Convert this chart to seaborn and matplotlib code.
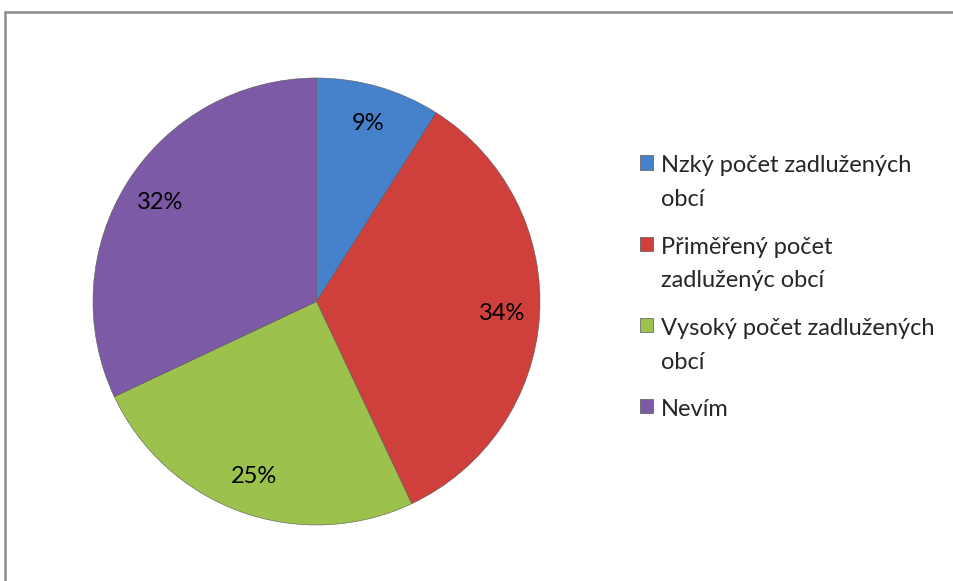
import matplotlib
matplotlib.use("Agg")
import matplotlib.pyplot as plt
import seaborn as sns
from matplotlib.patches import Patch
from matplotlib.lines import Line2D

labels = ["Nzký počet zadlužených\nobcí", "Přiměřený počet\nzadluženýc obcí",
          "Vysoký počet zadlužených\nobcí", "Nevím"]
values = [9, 34, 25, 32]
colors = ["#4682cc", "#cf403d", "#9cc14c", "#7c5aa5"]

sns.set_theme(style="white")
plt.rcParams["font.family"] = ["Lato", "DejaVu Sans"]

fig = plt.figure(figsize=(9.54, 5.81), dpi=100)
ax = fig.add_axes([93 / 954, 55 / 581, 447 / 954, 449 / 581])

wedges, texts, autotexts = ax.pie(
    values, colors=colors, startangle=90, counterclock=False,
    autopct="%d%%", pctdistance=0.83, radius=1.0,
    wedgeprops=dict(edgecolor="#5a5a5a", linewidth=0.4),
    textprops=dict(fontsize=17, color="black"))
ax.set_xlim(-1, 1)
ax.set_ylim(-1, 1)
ax.set_aspect("equal")

handles = [Patch(facecolor=c, edgecolor="#555555", linewidth=0.5) for c in colors]
leg = fig.legend(handles, labels, loc="upper left",
                 bbox_to_anchor=(631 / 954, 1 - 146 / 581),
                 frameon=False, fontsize=17, handlelength=0.55, handleheight=0.55,
                 handletextpad=0.3, labelspacing=1.12, borderaxespad=0)
for t in leg.get_texts():
    t.set_linespacing(1.75)
# put the square next to the first line of each entry
for col in leg._legend_handle_box.get_children():
    for row in col.get_children():
        row.align = "top"

# chart border (top and left edge)
fig.add_artist(Line2D([5 / 954, 1], [1 - 12 / 581, 1 - 12 / 581],
                      transform=fig.transFigure, color="#8c8c8c", lw=1.8))
fig.add_artist(Line2D([5 / 954, 5 / 954], [0, 1 - 12 / 581],
                      transform=fig.transFigure, color="#8c8c8c", lw=1.8))

fig.savefig("out.png", dpi=100, facecolor="white")
